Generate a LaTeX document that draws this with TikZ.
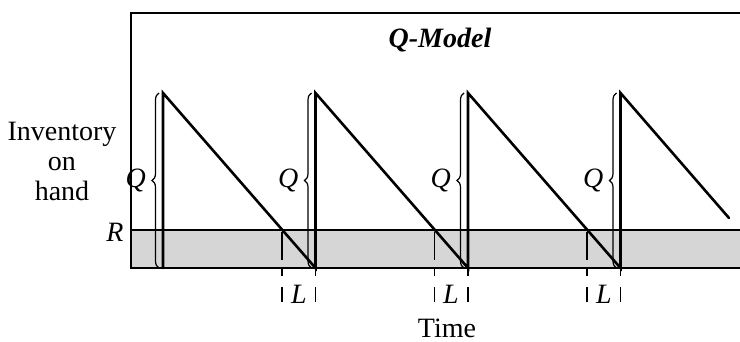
\documentclass[tikz,border=0pt]{standalone}
\usepackage{fontspec}
\setmainfont{Liberation Serif}
\usetikzlibrary{decorations.pathreplacing}
\begin{document}
\begin{tikzpicture}[x=0.5pt,y=-0.5pt,
frame/.style = {line width=0.8pt,black},
tooth/.style = {line width=1.3pt,black,line cap=round},
lead/.style = {line width=0.6pt,black,dash pattern=on 14 off 5},
tick/.style = {line width=0.6pt,black},
qbrace/.style = {line width=0.6pt,decorate,decoration={brace,amplitude=3.5pt}},
every node/.append style = {font=\fontsize{14}{15}\selectfont}]

        \useasboundingbox (0,0) rectangle (740,342);

        \coordinate (TL) at ( 131, 13 );
        \coordinate (TR) at ( 740, 13 );
        \coordinate (BL) at ( 131, 268 );
        \coordinate (BR) at ( 740, 268 );
        \coordinate (RL) at ( 131, 230 );
        \coordinate (RR) at ( 740, 230 );

        % safety stock band
        \fill[black!16] (RL) rectangle (BR);
        \draw[frame] (TR) -- (TL) -- (BL) -- (BR);
        \draw[frame] (RL) -- (RR);

        \coordinate (P_1) at ( 163, 93 );
        \coordinate (B_1) at ( 163, 268 );
        \coordinate (P_2) at ( 315.5, 93 );
        \coordinate (B_2) at ( 315.5, 268 );
        \coordinate (P_3) at ( 468, 93 );
        \coordinate (B_3) at ( 468, 268 );
        \coordinate (P_4) at ( 620.5, 93 );
        \coordinate (B_4) at ( 620.5, 268 );
        \coordinate (END) at ( 729, 218 );

        \draw[tooth] (B_1) -- (P_1) -- (B_2) -- (P_2) -- (B_3) -- (P_3) -- (B_4) -- (P_4) -- (END);

        % order quantity
        \draw[qbrace] ([xshift=-2pt]B_1) -- ([xshift=-2pt]P_1) node[midway,left=3pt] (Q_1) {\textit{Q}};
        \draw[qbrace] ([xshift=-2pt]B_2) -- ([xshift=-2pt]P_2) node[midway,left=3pt] (Q_2) {\textit{Q}};
        \draw[qbrace] ([xshift=-2pt]B_3) -- ([xshift=-2pt]P_3) node[midway,left=3pt] (Q_3) {\textit{Q}};
        \draw[qbrace] ([xshift=-2pt]B_4) -- ([xshift=-2pt]P_4) node[midway,left=3pt] (Q_4) {\textit{Q}};

        % lead time
        \coordinate (LS_1) at ( 282, 232 );
        \coordinate (LS_2) at ( 434.5, 232 );
        \coordinate (LS_3) at ( 587, 232 );
        \draw[lead] (LS_1) -- (282, 268);
        \draw[lead] (LS_2) -- (434.5, 268);
        \draw[lead] (LS_3) -- (587, 268);
        \draw[tick] (282, 268) -- (282, 276) (282, 287) -- (282, 302);
        \draw[tick] (434.5, 268) -- (434.5, 276) (434.5, 287) -- (434.5, 302);
        \draw[tick] (587, 268) -- (587, 276) (587, 287) -- (587, 302);
        \draw[tick] (B_2) -- (315.5, 276) (315.5, 287) -- (315.5, 302);
        \draw[tick] (B_3) -- (468, 276) (468, 287) -- (468, 302);
        \draw[tick] (B_4) -- (620.5, 276) (620.5, 287) -- (620.5, 302);
        \node (L_1) at ( 299, 294 ) {\textit{L}};
        \node (L_2) at ( 451, 294 ) {\textit{L}};
        \node (L_3) at ( 604, 294 ) {\textit{L}};

        \node (R) at ( 115, 232 ) {\textit{R}};
        \node[align=center] (inv) at ( 62, 161 ) {Inventory\\on\\hand};
        \node (title) at ( 440, 40 ) {\textbf{\textit{Q-Model}}};
        \node (time) at ( 447, 328 ) {Time};

    \end{tikzpicture}
\end{document}
